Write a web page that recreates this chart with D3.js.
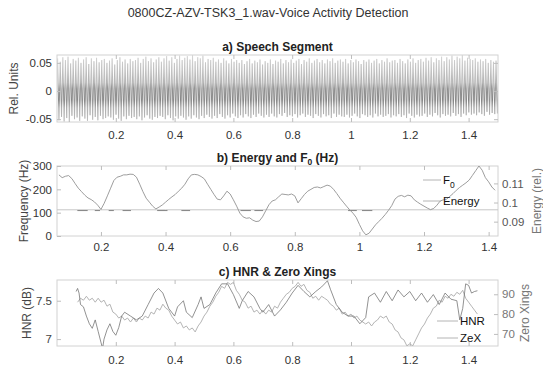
<!DOCTYPE html>
<html>
<head>
<meta charset="utf-8">
<script src="https://cdn.jsdelivr.net/npm/d3@7"></script>
<style>
    body { margin: 0; background: #fff; }
    svg { display: block; font-family: "Liberation Sans", Arial, Helvetica, sans-serif; }
</style>
</head>
<body>
<svg></svg>
<script>
// ---- data ----

const xTicks = [0.2, 0.4, 0.6, 0.8, 1, 1.2, 1.4];

// a) speech waveform, one peak and one trough per pitch period (thousandths of rel. units)
const speechDuration = 1.5;
const speechPeak = [
    58,52,60,55,61,49,57,54,59,50, 56,60,48,58,53,59,51,55,57,50,
    54,58,47,55,60,52,56,49,57,53, 55,59,50,57,61,53,58,51,56,60,
    52,58,62,54,60,50,57,63,55,59, 62,56,64,53,60,58,63,51,57,55,
    59,52,56,50,58,54,49,57,52,55, 50,55,48,53,57,49,54,51,56,47,
    53,50,56,48,54,52,57,49,55,51, 56,50,54,57,48,55,52,58,50,54,
    57,51,55,49,56,53,58,50,54,56, 52,57,49,55,51,56,53,48,55,52,
    56,50,54,57,49,55,52,58,51,54, 55,50,57,53,49,56,52,58,50,55,
    57,52,59,54,60,51,58,55,61,53, 60,56,63,55,61,58,64,54,59,57,
    55,58,52,56,53,57,50,55,52,54
];
const speechTrough = [
    -52,-46,-54,-48,-55,-44,-50,-47,-53,-45, -49,-53,-43,-51,-46,-52,-44,-50,-48,-45,
    -47,-51,-42,-49,-53,-45,-50,-44,-48,-46, -50,-45,-52,-47,-43,-49,-51,-46,-48,-44,
    -46,-50,-43,-48,-52,-45,-49,-44,-47,-51, -45,-49,-43,-47,-50,-44,-48,-42,-46,-49,
    -44,-48,-41,-46,-49,-43,-47,-40,-45,-48, -43,-47,-41,-45,-48,-42,-46,-40,-44,-47,
    -42,-46,-40,-45,-47,-41,-44,-39,-46,-43, -45,-41,-47,-43,-40,-46,-42,-44,-48,-41,
    -44,-47,-41,-45,-43,-48,-40,-46,-42,-45, -46,-42,-47,-44,-40,-45,-48,-41,-43,-46,
    -43,-47,-40,-45,-42,-46,-44,-41,-47,-43, -45,-41,-46,-43,-48,-40,-44,-47,-42,-45,
    -44,-40,-46,-42,-45,-39,-43,-47,-41,-44, -42,-45,-39,-44,-41,-46,-40,-43,-38,-42,
    -40,-43,-38,-41,-44,-37,-42,-39,-41,-40
];

// b) F0 track, one value every 10 ms from 0.07 s
const f0Start = 0.07, f0Step = 0.01;
const f0Hz = [
    262,250,256,259,246,225,205,190,175,163, 156,146,132,114,140,172,205,238,252,256,
    262,262,265,264,252,222,190,162,145,128, 116,124,133,145,157,168,178,192,205,222,
    245,262,264,262,255,245,222,200,178,158, 155,172,192,180,155,128,98,82,76,78,
    68,62,64,82,108,134,150,155,168,180, 178,176,180,172,142,160,178,192,200,208,
    210,206,212,218,214,200,182,162,145,128, 112,98,80,50,22,5,12,30,48,62,
    76,92,110,130,158,170,174,168,175,172, 155,145,136,128,120,113,118,132,150,155,
    158,170,182,196,208,218,228,240,260,280, 300,282,250,232,210,196
];
const energyTime = [0.064, 0.4, 0.8, 1.2, 1.429];
const energyRel = [0.0962, 0.0962, 0.0962, 0.0962, 0.0962];
const lowTrackHz = 109;
const lowTrackSegments = [
    [0.127, 0.159], [0.181, 0.197], [0.224, 0.240], [0.267, 0.293], [0.374, 0.406],
    [0.449, 0.476], [0.632, 0.664], [0.675, 0.702], [0.965, 0.992], [1.008, 1.040]
];

// c) HNR (dB) and zero crossings
const hnrTime = [
    0.065,0.07,0.075,0.08,0.09,0.1,0.11,0.12,0.13,0.14,0.15,0.155,0.16,0.17,0.18,0.19,0.2,0.21,0.22,0.23,
    0.25,0.27,0.29,0.31,0.33,0.345,0.36,0.38,0.4,0.41,0.43,0.44,0.46,0.48,0.49,0.5,0.52,0.54,0.56,0.58,
    0.6,0.62,0.63,0.65,0.67,0.69,0.7,0.72,0.74,0.76,0.78,0.8,0.82,0.84,0.86,0.88,0.9,0.92,0.93,0.95,
    0.97,0.99,1.01,1.03,1.05,1.06,1.08,1.1,1.12,1.14,1.16,1.18,1.2,1.22,1.24,1.26,1.28,1.3,1.32,1.34,
    1.36,1.37,1.38,1.39,1.4,1.41,1.42,1.43
];
const hnrDb = [
    7.62,7.66,7.6,7.45,7.42,7.3,7.2,7.14,7.25,7.1,6.95,6.88,7.0,7.12,7.2,7.1,7.05,7.15,7.3,7.35,
    7.3,7.25,7.3,7.45,7.6,7.66,7.6,7.4,7.3,7.42,7.5,7.35,7.28,7.45,7.55,7.4,7.45,7.6,7.72,7.72,
    7.58,7.4,7.5,7.62,7.55,7.4,7.35,7.45,7.3,7.38,7.48,7.6,7.7,7.62,7.55,7.62,7.68,7.76,7.65,7.45,
    7.35,7.3,7.3,7.2,7.28,7.55,7.6,7.48,7.62,7.5,7.64,7.55,7.62,7.5,7.6,7.48,7.58,7.45,7.6,7.52,
    7.5,7.25,7.4,7.72,7.7,7.6,7.62,7.63
];
const zexStart = 0.07, zexStep = 0.01;
const zeroXings = [
    86,88,87,89,87,88,86,88,86,87, 84,85,81,80,78,79,77,78,76,78,
    76,78,77,79,78,81,80,83,82,85, 83,82,79,77,75,76,73,74,72,73,
    71,74,76,79,81,84,86,89,91,94, 93,96,95,96,92,90,87,86,83,84,
    81,82,80,82,80,82,81,84,83,86, 88,90,91,93,94,96,94,95,92,91,
    88,89,87,89,88,87,85,84,82,83, 80,81,79,80,78,79,77,76,75,76,
    74,76,77,79,78,79,76,75,72,71, 68,67,64,65,64,67,70,73,75,78,
    80,83,84,87,86,89,88,90,89,91, 90,92,88,86,84,82,80
];

// ---- layout ----
const W = 543, H = 371;
const left = 57, right = 498;
const boxColor = "#d2d2d2";

function main() {
    const svg = d3.select("svg").attr("width", W).attr("height", H);

    svg.append("text")
        .text("0800CZ-AZV-TSK3_1.wav-Voice Activity Detection")
        .attr("x", 268).attr("y", 17)
        .attr("font-size", 12.5).attr("fill", "#333")
        .style("text-anchor", "middle");

    speechPanel(svg);
    energyPanel(svg);
    hnrPanel(svg);
}

function frame(svg, id, x, top, bottom, pad) {
    svg.append("clipPath").attr("id", id)
        .append("rect").attr("x", left).attr("y", top)
        .attr("width", right - left).attr("height", bottom - top);

    svg.append("rect")
        .attr("x", left).attr("y", top)
        .attr("width", right - left).attr("height", bottom - top)
        .attr("fill", "none").attr("stroke", boxColor);

    svg.append("g")
        .attr("transform", `translate(0,${bottom})`)
        .call(d3.axisBottom(x).tickValues(xTicks).tickSize(-4).tickPadding(pad).tickFormat(d3.format("~g")))
        .call(styleAxis, "#333");
    svg.append("g")
        .attr("transform", `translate(0,${top})`)
        .call(d3.axisTop(x).tickValues(xTicks).tickSize(-4).tickFormat(""))
        .call(styleAxis, "#333");
}

function styleAxis(g, color) {
    g.select(".domain").remove();
    g.selectAll("line").attr("stroke", "#bdbdbd");
    g.selectAll("text").attr("fill", color).attr("font-size", 11.5)
        .attr("font-family", "Liberation Sans, Arial, sans-serif");
}

function yLabel(svg, text, x, y, color) {
    svg.append("text")
        .text(text)
        .attr("font-size", 12).attr("fill", color)
        .attr("dominant-baseline", "central")
        .attr("transform", `translate(${x},${y}) rotate(-90)`)
        .style("text-anchor", "middle");
}

function panelTitle(svg, y) {
    return svg.append("text")
        .attr("x", (left + right) / 2).attr("y", y)
        .attr("font-size", 12).attr("font-weight", "bold").attr("fill", "#222")
        .style("text-anchor", "middle");
}

function speechPanel(svg) {
    const top = 55, bottom = 122;
    const x = d3.scaleLinear().domain([0, speechDuration]).range([left, right]);
    const ext = d3.extent(speechPeak.concat(speechTrough)).map(v => v / 1000);
    const y = d3.scaleLinear().domain(ext).range([bottom, top]);

    // gradient: the crowded middle of the waveform looks darker
    const grad = svg.append("linearGradient").attr("id", "wave")
        .attr("gradientUnits", "userSpaceOnUse")
        .attr("x1", 0).attr("x2", 0).attr("y1", top).attr("y2", bottom);
    [[0.064, "#d4d4d4"], [0.035, "#b4b4b4"], [0.015, "#9a9a9a"], [0.004, "#6a6a6a"],
     [-0.016, "#666"], [-0.03, "#a0a0a0"], [-0.055, "#bcbcbc"]].forEach(s => {
        grad.append("stop").attr("offset", (y(s[0]) - top) / (bottom - top)).attr("stop-color", s[1]);
    });

    const period = speechDuration / speechPeak.length;
    const pts = [];
    speechPeak.forEach((p, i) => {
        pts.push([(i + 0.25) * period, p / 1000]);
        pts.push([(i + 0.75) * period, speechTrough[i] / 1000]);
    });

    frame(svg, "clipA", x, top, bottom, 9);

    svg.append("path")
        .datum(pts)
        .attr("clip-path", "url(#clipA)")
        .attr("fill", "none").attr("stroke", "url(#wave)").attr("stroke-width", 0.75)
        .attr("d", d3.line().x(d => x(d[0])).y(d => y(d[1])));

    svg.append("g")
        .attr("transform", `translate(${left},0)`)
        .call(d3.axisLeft(y).tickValues([-0.05, 0, 0.05]).tickSize(-4).tickPadding(5).tickFormat(d => String(d)))
        .call(styleAxis, "#333");
    svg.append("g")
        .attr("transform", `translate(${right},0)`)
        .call(d3.axisRight(y).tickValues([-0.05, 0, 0.05]).tickSize(-4).tickFormat(""))
        .call(styleAxis, "#333");

    panelTitle(svg, 51).text("a) Speech Segment");
    yLabel(svg, "Rel. Units", 14, (top + bottom) / 2, "#444");
}

function energyPanel(svg) {
    const top = 166, bottom = 236;
    const x = d3.scaleLinear().domain([0.064, 1.429]).range([left, right]);
    const y = d3.scaleLinear().domain([0, 300]).range([bottom, top]);
    const yE = d3.scaleLinear().domain([0.0825, 0.1191]).range([bottom, top]);

    frame(svg, "clipB", x, top, bottom, 7);

    const g = svg.append("g").attr("clip-path", "url(#clipB)");

    g.append("path")
        .datum(energyTime.map((t, i) => [t, energyRel[i]]))
        .attr("fill", "none").attr("stroke", "#c6c6c6").attr("stroke-width", 1)
        .attr("d", d3.line().x(d => x(d[0])).y(d => yE(d[1])));

    g.selectAll(".low")
        .data(lowTrackSegments)
        .join("line")
        .attr("x1", d => x(d[0])).attr("x2", d => x(d[1]))
        .attr("y1", y(lowTrackHz)).attr("y2", y(lowTrackHz))
        .attr("stroke", "#555").attr("stroke-width", 0.7);

    g.append("path")
        .datum(f0Hz)
        .attr("fill", "none").attr("stroke", "#929292").attr("stroke-width", 0.9)
        .attr("d", d3.line().x((d, i) => x(f0Start + i * f0Step)).y(d => y(d)));

    svg.append("g")
        .attr("transform", `translate(${left},0)`)
        .call(d3.axisLeft(y).tickValues([0, 100, 200, 300]).tickSize(-4).tickPadding(5))
        .call(styleAxis, "#333");
    svg.append("g")
        .attr("transform", `translate(${right},0)`)
        .call(d3.axisRight(yE).tickValues([0.09, 0.1, 0.11]).tickSize(-4).tickPadding(4).tickFormat(d => String(d)))
        .call(styleAxis, "#555");

    // legend
    const leg = [{ y: 180, label: "F", sub: "0" }, { y: 201, label: "Energy" }];
    leg.forEach(d => {
        svg.append("line")
            .attr("x1", 423).attr("x2", 441).attr("y1", d.y).attr("y2", d.y)
            .attr("stroke", "#b4b4b4");
        const t = svg.append("text")
            .attr("x", 443).attr("y", d.y + 4)
            .attr("font-size", 11.5).attr("fill", "#111");
        t.append("tspan").text(d.label);
        if (d.sub) t.append("tspan").text(d.sub).attr("font-size", 8.5).attr("dy", 4);
    });

    const title = panelTitle(svg, 162);
    title.append("tspan").text("b) Energy and F");
    title.append("tspan").text("0").attr("font-size", 8.5).attr("dy", 3);
    title.append("tspan").text(" (Hz)").attr("dy", -3);

    yLabel(svg, "Frequency (Hz)", 24, (top + bottom) / 2, "#444");
    yLabel(svg, "Energy (rel.)", 537, (top + bottom) / 2, "#777");
}

function hnrPanel(svg) {
    const top = 280, bottom = 346;
    const x = d3.scaleLinear().domain([0, 1.5]).range([left, right]);
    const y = d3.scaleLinear().domain([6.91, 7.77]).range([bottom, top]);
    const yZ = d3.scaleLinear().domain([63.9, 97.2]).range([bottom, top]);

    frame(svg, "clipC", x, top, bottom, 10);

    const g = svg.append("g").attr("clip-path", "url(#clipC)");

    g.append("path")
        .datum(zeroXings)
        .attr("fill", "none").attr("stroke", "#ababab").attr("stroke-width", 0.9)
        .attr("d", d3.line().x((d, i) => x(zexStart + i * zexStep)).y(d => yZ(d)));

    g.append("path")
        .datum(hnrTime.map((t, i) => [t, hnrDb[i]]))
        .attr("fill", "none").attr("stroke", "#6e6e6e").attr("stroke-width", 0.75)
        .attr("d", d3.line().x(d => x(d[0])).y(d => y(d[1])));

    svg.append("g")
        .attr("transform", `translate(${left},0)`)
        .call(d3.axisLeft(y).tickValues([7, 7.5]).tickSize(-4).tickPadding(5).tickFormat(d => String(d)))
        .call(styleAxis, "#444");
    svg.append("g")
        .attr("transform", `translate(${right},0)`)
        .call(d3.axisRight(yZ).tickValues([70, 80, 90]).tickSize(-4).tickPadding(4))
        .call(styleAxis, "#777");

    [{ y: 321, label: "HNR" }, { y: 338, label: "ZeX" }].forEach(d => {
        svg.append("line")
            .attr("x1", 437).attr("x2", 458).attr("y1", d.y).attr("y2", d.y)
            .attr("stroke", "#b4b4b4");
        svg.append("text")
            .text(d.label)
            .attr("x", 460).attr("y", d.y + 4)
            .attr("font-size", 11.5).attr("fill", "#111");
    });

    panelTitle(svg, 276).text("c) HNR & Zero Xings");
    yLabel(svg, "HNR (dB)", 27, (top + bottom) / 2, "#444");
    yLabel(svg, "Zero Xings", 525, (top + bottom) / 2, "#777");
}

main();
</script>
</body>
</html>
